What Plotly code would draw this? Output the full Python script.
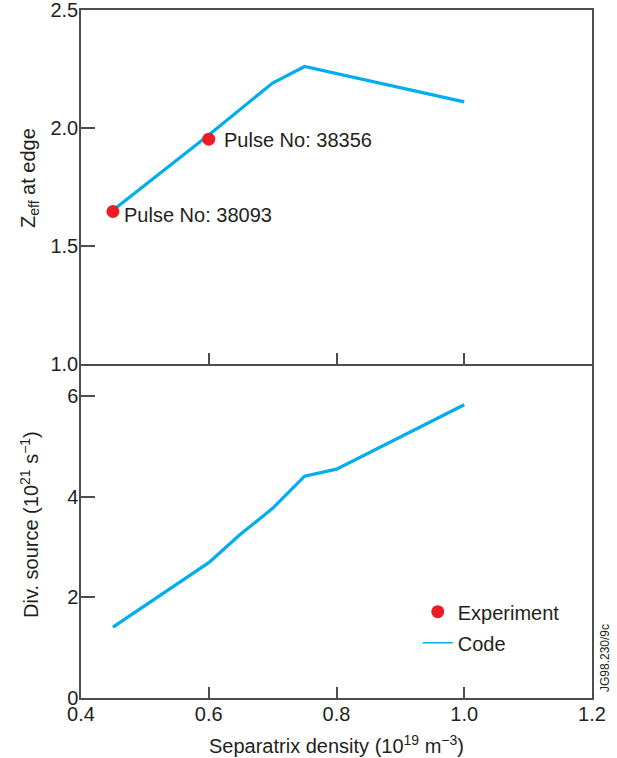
import plotly.graph_objects as go

# Separatrix density (10^19 m^-3)
code_density_zeff = [0.45, 0.60, 0.70, 0.75, 1.00]
code_zeff = [1.65, 1.97, 2.19, 2.26, 2.11]

exp_density = [0.45, 0.60]
exp_zeff = [1.645, 1.952]
exp_pulses = ["38093", "38356"]

code_density_src = [0.45, 0.60, 0.65, 0.70, 0.75, 0.80, 1.00]
code_source = [1.41, 2.69, 3.26, 3.77, 4.41, 4.55, 5.83]

x_ticks = [0.4, 0.6, 0.8, 1.0, 1.2]
x_ticktext = ["0.4", "0.6", "0.8", "1.0", "1.2"]
zeff_ticks = [1.0, 1.5, 2.0, 2.5]
zeff_ticktext = ["1.0", "1.5", "2.0", "2.5"]
src_ticks = [0, 2, 4, 6]
src_ticktext = ["0", "2", "4", "6"]

BLUE = "#00aeef"
RED = "#ed1c24"
INK = "#231f20"
AXIS = "#4d4d4d"
FONT = "Liberation Sans, Arial, Helvetica, sans-serif"
FS = 20


def txt(size=FS):
    return dict(size=size, color=INK, family=FONT)


fig = go.Figure()

# Code prediction, Z_eff (top panel)
fig.add_trace(go.Scatter(
    x=code_density_zeff, y=code_zeff, xaxis="x2", yaxis="y2",
    mode="lines", line=dict(color=BLUE, width=3.2),
    showlegend=False, hoverinfo="skip",
))
# Experimental points
fig.add_trace(go.Scatter(
    x=exp_density, y=exp_zeff, xaxis="x2", yaxis="y2",
    mode="markers", marker=dict(color=RED, size=13),
    name="Experiment", legend="legend",
))
# Code prediction, divertor source (bottom panel)
fig.add_trace(go.Scatter(
    x=code_density_src, y=code_source, xaxis="x", yaxis="y",
    mode="lines", line=dict(color=BLUE, width=3.2),
    showlegend=False, hoverinfo="skip",
))
# Legend entry for the code curves
fig.add_trace(go.Scatter(
    x=[None], y=[None], xaxis="x", yaxis="y",
    mode="lines", line=dict(color=BLUE, width=1.4),
    name="Code", legend="legend2",
))

# Pulse labels beside the experimental points
label_shift = [(9, -4), (13, -1)]
for xv, yv, pulse, (dx, dy) in zip(exp_density, exp_zeff, exp_pulses, label_shift):
    fig.add_annotation(
        x=xv, y=yv, xref="x2", yref="y2", text=f"Pulse No: {pulse}",
        showarrow=False, xanchor="left", yanchor="middle",
        xshift=dx, yshift=dy, font=txt(),
    )

split = 334.5 / 688.0

# Axis titles
fig.add_annotation(
    x=0, y=(698 - 178) / 688, xref="paper", yref="paper",
    text="Z<sub>eff</sub> at edge", textangle=-90, showarrow=False,
    xanchor="center", yanchor="middle", xshift=-52, font=txt(),
)
fig.add_annotation(
    x=0, y=(698 - 525) / 688, xref="paper", yref="paper",
    text="Div. source (10<sup>21</sup> s<sup>−1</sup>)", textangle=-90,
    showarrow=False, xanchor="center", yanchor="middle", xshift=-52,
    font=txt(),
)
fig.add_annotation(
    x=0.5, y=0, xref="paper", yref="paper",
    text="Separatrix density (10<sup>19</sup> m<sup>−3</sup>)",
    showarrow=False, xanchor="center", yanchor="middle", yshift=-46,
    font=txt(),
)

# Figure code along the right edge
fig.add_annotation(
    x=1.0, y=0.0, xref="paper", yref="paper", text="JG98.230/9c",
    showarrow=False, textangle=-90, xanchor="left", yanchor="bottom",
    xshift=4, yshift=4, font=txt(12),
)

axis_common = dict(
    showline=True, linecolor=AXIS, linewidth=1.5,
    ticks="inside", tickcolor=AXIS, tickwidth=1.5,
    showgrid=False, zeroline=False, automargin=False,
    ticklabeloverflow="allow", ticklabelstandoff=-3,
    tickfont=txt(),
)

fig.update_layout(
    width=617, height=758,
    margin=dict(l=81, r=25, t=10, b=60),
    paper_bgcolor="white", plot_bgcolor="white",
    font=dict(family=FONT, color=INK),
    xaxis=dict(
        **axis_common, mirror=False, domain=[0, 1], anchor="y",
        range=[0.4, 1.2], tickvals=x_ticks, ticktext=x_ticktext, ticklen=11,
    ),
    xaxis2=dict(
        **axis_common, mirror=True, domain=[0, 1], anchor="y2",
        range=[0.4, 1.2], tickvals=x_ticks, ticklen=11,
        showticklabels=False, matches="x",
    ),
    yaxis=dict(
        **axis_common, mirror=True, domain=[0, split], anchor="x",
        range=[0, 6.65], tickvals=src_ticks, ticktext=src_ticktext, ticklen=14,
    ),
    yaxis2=dict(
        **axis_common, mirror=True, domain=[split, 1], anchor="x2",
        range=[1.0, 2.5], tickvals=zeff_ticks, ticktext=zeff_ticktext,
        ticklen=14,
    ),
    legend=dict(
        x=0.659, y=(698 - 611.7) / 688, xanchor="left", yanchor="middle",
        bgcolor="rgba(0,0,0,0)", font=txt(),
    ),
    legend2=dict(
        x=0.659, y=(698 - 642.7) / 688, xanchor="left", yanchor="middle",
        bgcolor="rgba(0,0,0,0)", font=txt(),
    ),
)

fig.write_html("out.html")
